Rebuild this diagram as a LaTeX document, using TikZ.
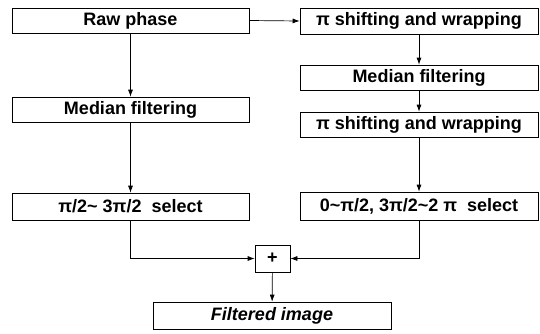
\documentclass[tikz,border=0pt]{standalone}
\usepackage{fontspec}
\setmainfont{Liberation Sans}
\usepackage{tikz}
\usetikzlibrary{positioning,calc,arrows.meta}

\tikzset{
    blk/.style={draw, line width=0.7pt, inner sep=0pt, minimum height=25pt,
        minimum width=237pt, font=\fontsize{18}{21}\selectfont\bfseries},
    sumbox/.style={draw, line width=0.7pt, minimum width=35pt, minimum height=27pt,
        inner sep=0pt, font=\fontsize{18}{21}\selectfont\bfseries},
    flow/.style={-{Latex[length=7pt,width=5pt]}, line width=0.7pt}
}

\begin{document}
\begin{tikzpicture}[x=1pt,y=-1pt]
    \useasboundingbox (0,0) rectangle (540,333);

    % left branch
    \node[blk] (raw) at (130.5,20.5) {Raw phase};
    \node[blk] (medL) at (130.5,109.5) {Median filtering};
    \node[blk, minimum height=27pt] (selL) at (130.5,206.5) {π/2\textasciitilde\ 3π/2\ \ select};

    % right branch
    \node[blk, minimum width=238pt, minimum height=26pt] (shiftA) at (419,21) {π shifting and wrapping};
    \node[blk, minimum width=238pt] (medR) at (419,77.5) {Median filtering};
    \node[blk, minimum width=238pt] (shiftB) at (419,124.5) {π shifting and wrapping};
    \node[blk, minimum width=238pt, minimum height=28pt] (selR) at (419,206) {0\textasciitilde π/2, 3π/2\textasciitilde 2 π\ \ select};

    % combine
    \node[sumbox] (plus) at (272.5,258.5) {+};
    \node[blk, minimum width=238pt, minimum height=27pt, font=\fontsize{18}{21}\selectfont\bfseries\itshape] (filt) at (272,315.5) {Filtered image};

    \draw[flow] (raw) -- (medL);
    \draw[flow] (medL) -- (selL);
    \draw[flow] (raw.east) -- (shiftA.west);
    \draw[flow] (shiftA) -- (medR);
    \draw[flow] (medR) -- (shiftB);
    \draw[flow] (shiftB) -- (selR);
    \draw[flow] (selL.south) |- (plus.west);
    \draw[flow] (selR.south) |- (plus.east);
    \draw[flow] (plus) -- (filt);
\end{tikzpicture}
\end{document}
